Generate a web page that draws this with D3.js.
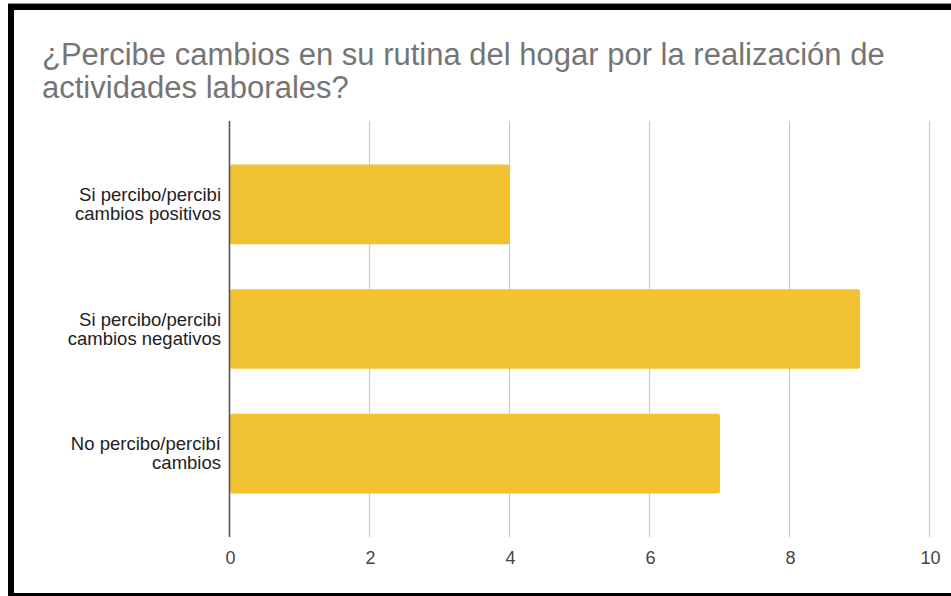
<!DOCTYPE html>
<html><head><meta charset="utf-8">
<script src="https://cdn.jsdelivr.net/npm/d3@7"></script>
<style>
html,body{margin:0;padding:0;background:#fff;}
svg{display:block;font-family:"Liberation Sans",Arial,sans-serif;}
</style></head>
<body>
<svg id="chart" width="951" height="596"></svg>
<script>
const titleLines = ["¿Percibe cambios en su rutina del hogar por la realización de", "actividades laborales?"];
const categories = [
  ["Si percibo/percibi", "cambios positivos"],
  ["Si percibo/percibi", "cambios negativos"],
  ["No percibo/percibí", "cambios"]
];
const values = [4, 9, 7];
const tickValues = [0, 2, 4, 6, 8, 10];

const svg = d3.select("#chart");
const W = 951, H = 596;
const margin = {left: 230, right: 21, top: 121, bottom: 59};

// frame
svg.append("rect").attr("x", 0).attr("y", 0).attr("width", W).attr("height", H).attr("fill", "#fff");
svg.append("line").attr("x1", 8).attr("x2", W).attr("y1", 3.5).attr("y2", 3.5).attr("stroke", "#999").attr("stroke-width", 1);
svg.append("rect").attr("x", 8).attr("y", 4).attr("width", W - 8).attr("height", 6).attr("fill", "#000");
svg.append("rect").attr("x", 8).attr("y", 4).attr("width", 6).attr("height", H - 4).attr("fill", "#000");
svg.append("rect").attr("x", 8).attr("y", 593).attr("width", W - 8).attr("height", 3).attr("fill", "#000");

// title
svg.append("text").attr("x", 42).attr("y", 65)
  .attr("font-size", 31).attr("fill", "#757575")
  .selectAll("tspan").data(titleLines).join("tspan")
  .attr("x", 42).attr("dy", (d, i) => i === 0 ? 0 : 33).text(d => d);

const x = d3.scaleLinear().domain([0, 10]).range([margin.left, margin.left + 700]);
const y = d3.scaleBand().domain(d3.range(categories.length))
  .range([margin.top, H - margin.bottom]).paddingInner(0.36).paddingOuter(0.35);

// gridlines
svg.append("g").selectAll("line").data(tickValues.filter(t => t !== 0)).join("line")
  .attr("x1", d => Math.round(x(d)) - 0.5).attr("x2", d => Math.round(x(d)) - 0.5)
  .attr("y1", margin.top).attr("y2", H - margin.bottom)
  .attr("stroke", "#cccccc").attr("stroke-width", 1.2);

// bars
svg.append("g").selectAll("rect").data(values).join("rect")
  .attr("x", x(0)).attr("y", (d, i) => y(i))
  .attr("width", d => x(d) - x(0)).attr("height", y.bandwidth())
  .attr("rx", 2).attr("fill", "#f1c232");

// baseline axis
svg.append("line").attr("x1", x(0) - 0.5).attr("x2", x(0) - 0.5)
  .attr("y1", margin.top).attr("y2", H - margin.bottom)
  .attr("stroke", "#555").attr("stroke-width", 1.6);

// x tick labels
const xAxis = d3.axisBottom(x).tickValues(tickValues).tickSize(0).tickPadding(0);
const gx = svg.append("g").attr("transform", `translate(0,${H - margin.bottom + 14})`).call(xAxis);
gx.select(".domain").remove();
gx.selectAll("text").attr("font-size", 18).attr("fill", "#444").attr("font-family", "Liberation Sans, Arial, sans-serif")
  .attr("dy", "0.71em");

// y category labels
const gy = svg.append("g");
categories.forEach((lines, i) => {
  const cy = y(i) + y.bandwidth() / 2;
  const t = gy.append("text").attr("text-anchor", "end").attr("font-size", 18.5).attr("fill", "#222");
  const n = lines.length;
  lines.forEach((ln, j) => {
    t.append("tspan").attr("x", 221).attr("y", cy + (j - (n - 1) / 2) * 19 + 6).text(ln);
  });
});
</script>
</body></html>
